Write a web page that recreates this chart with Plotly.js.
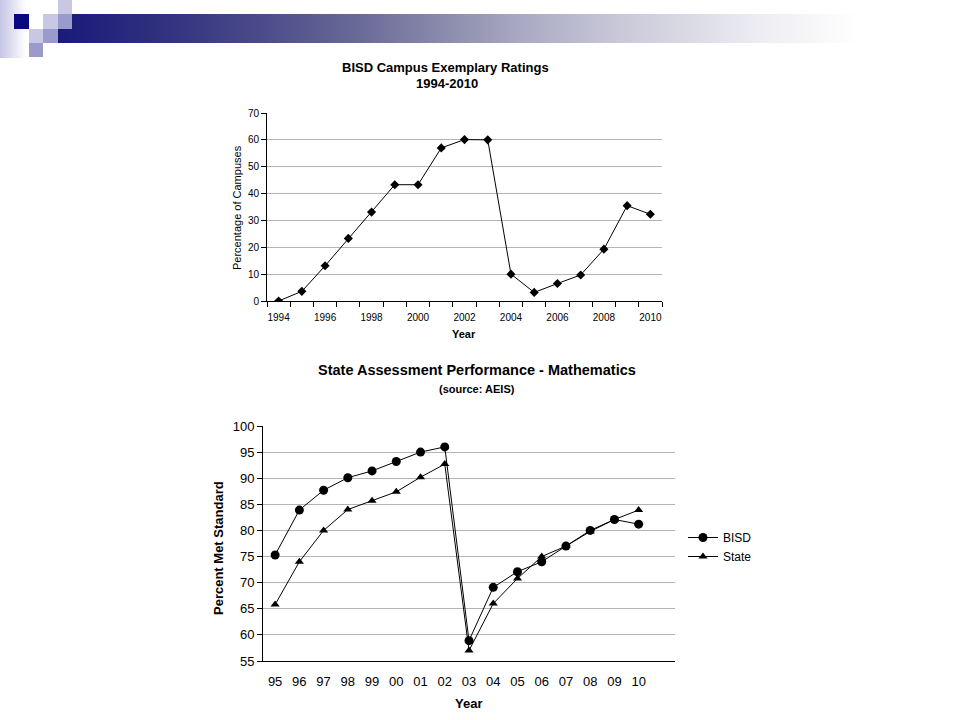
<!DOCTYPE html>
<html><head><meta charset="utf-8">
<script src="https://cdn.plot.ly/plotly-3.0.1.min.js"></script>
<style>
html,body{margin:0;padding:0;background:#fff;}
#wrap{position:relative;width:960px;height:720px;overflow:hidden;background:#fff;}
.deco{position:absolute;}
#chart{position:absolute;left:0;top:0;width:960px;height:720px;}
</style></head><body>
<div id="wrap">
 <div class="deco" style="left:0;top:0;width:26px;height:58px;background:linear-gradient(to right,#c4c4e4,#ffffff);"></div>
 <div class="deco" style="left:58px;top:14px;width:902px;height:29px;background:linear-gradient(to right,#1a1a7a 0px,#30307f 100px,#4a4a8a 200px,#6a6a98 300px,#9090b0 400px,#a8a8c2 460px,#c8c8d8 560px,#ececf2 700px,#ffffff 800px);"></div>
 <div class="deco" style="left:14px;top:14px;width:15px;height:15px;background:#0a0a80;"></div>
 <div class="deco" style="left:43px;top:14px;width:15px;height:15px;background:#c8c8e4;"></div>
 <div class="deco" style="left:58px;top:0px;width:14px;height:14px;background:#c8c8e4;"></div>
 <div class="deco" style="left:58px;top:14px;width:14px;height:15px;background:#9a9acc;"></div>
 <div class="deco" style="left:29px;top:29px;width:14px;height:14px;background:#c8c8e4;"></div>
 <div class="deco" style="left:43px;top:29px;width:15px;height:14px;background:#9a9acc;"></div>
 <div class="deco" style="left:29px;top:43px;width:14px;height:14px;background:#9a9acc;"></div>
 <div id="chart"></div>
</div>
<script>
// Top chart: BISD Campus Exemplary Ratings
const topYears = [1994,1995,1996,1997,1998,1999,2000,2001,2002,2003,2004,2005,2006,2007,2008,2009,2010];
const topPct = [0,3.6,13.1,23.3,33.1,43.3,43.3,57.0,60.1,60.0,10.0,3.2,6.5,9.7,19.3,35.5,32.3];
const topTickYears = [1994,1996,1998,2000,2002,2004,2006,2008,2010];
const topTickText = ["1994","1996","1998","2000","2002","2004","2006","2008","2010"];

// Bottom chart: State Assessment Performance - Mathematics
const yearLabels = ["95","96","97","98","99","00","01","02","03","04","05","06","07","08","09","10"];
const bisd = [75.3,83.9,87.7,90.1,91.4,93.2,95.0,96.0,58.9,69.1,72.1,74.0,77.0,80.0,82.1,81.2];
const state = [65.8,74.0,80.0,84.0,85.7,87.4,90.2,92.7,57.0,66.0,70.8,75.0,77.0,79.8,82.1,83.9];

const F = "Liberation Sans, Arial, sans-serif";

const traces = [
  {x: topYears, y: topPct, type:'scatter', mode:'lines+markers', xaxis:'x', yaxis:'y',
   line:{color:'#000', width:1}, marker:{symbol:'diamond', size:7, color:'#000'}, showlegend:false, name:'Campuses'},
  {x: yearLabels, y: bisd, type:'scatter', mode:'lines+markers', xaxis:'x2', yaxis:'y2',
   line:{color:'#000', width:1}, marker:{symbol:'circle', size:9, color:'#000'}, name:'BISD'},
  {x: yearLabels, y: state, type:'scatter', mode:'lines+markers', xaxis:'x2', yaxis:'y2',
   line:{color:'#000', width:1}, marker:{symbol:'triangle-up', size:8, color:'#000'}, name:'State'}
];

const gridC = '#b4b4b4';
const clear = 'rgba(0,0,0,0)';
const layout = {
  width:960, height:720,
  margin:{l:0,r:0,t:0,b:0},
  paper_bgcolor:clear, plot_bgcolor:clear,
  font:{family:F, color:'#000'},
  xaxis:{domain:[267/960, 662/960], anchor:'y', type:'linear', range:[1993.5,2010.5],
    tickmode:'array', tickvals: topTickYears, ticktext: topTickText,
    ticks:'outside', ticklen:7, tickcolor:clear, showgrid:false,
    showline:true, linecolor:'#000', linewidth:1, tickfont:{size:10, family:F}, zeroline:false,
    minor:{tick0:1993.5, dtick:1, ticks:'outside', ticklen:5, tickcolor:'#000', showgrid:false}},
  yaxis:{domain:[(720-301)/720, (720-113)/720], anchor:'x', range:[0,70], dtick:10,
    showgrid:true, gridcolor:gridC, gridwidth:1, zeroline:false,
    showline:true, linecolor:'#000', linewidth:1, ticks:'outside', ticklen:5, tickcolor:'#000',
    tickfont:{size:10, family:F}},
  xaxis2:{domain:[263/960, 675/960], anchor:'y2', type:'category', range:[-0.5,16.5],
    ticks:'outside', ticklen:8, tickcolor:clear, showgrid:false, showline:true, linecolor:'#000', linewidth:1,
    tickfont:{size:13, family:F}, zeroline:false},
  xaxis3:{overlaying:'x2', anchor:'y2', type:'linear', range:[-0.5,16.5], tick0:-0.5, dtick:1,
    ticks:'outside', ticklen:5, tickcolor:'#000', showticklabels:false, showgrid:false,
    showline:false, zeroline:false},
  yaxis2:{domain:[(720-661)/720, (720-426)/720], anchor:'x2', range:[55,100], dtick:5,
    showgrid:true, gridcolor:gridC, gridwidth:1, zeroline:false,
    showline:true, linecolor:'#000', linewidth:1, ticks:'outside', ticklen:5, tickcolor:'#000',
    tickfont:{size:13, family:F}},
  showlegend:true,
  legend:{x:683/960, y:(720-523)/720, xanchor:'left', yanchor:'top', bgcolor:clear,
    font:{size:12, family:F}, itemwidth:30, tracegroupgap:0},
  annotations:[
    {text:'<b>BISD Campus Exemplary Ratings</b>', x:445/960, y:(720-67)/720, xref:'paper', yref:'paper',
     showarrow:false, font:{size:13, family:F}, xanchor:'center', yanchor:'middle'},
    {text:'<b>1994-2010</b>', x:447/960, y:(720-83)/720, xref:'paper', yref:'paper',
     showarrow:false, font:{size:13, family:F}, xanchor:'center', yanchor:'middle'},
    {text:'Percentage of Campuses', x:237/960, y:(720-208)/720, xref:'paper', yref:'paper',
     showarrow:false, textangle:-90, font:{size:11, family:F}, xanchor:'center', yanchor:'middle'},
    {text:'<b>Year</b>', x:464/960, y:(720-334)/720, xref:'paper', yref:'paper',
     showarrow:false, font:{size:11, family:F}, xanchor:'center', yanchor:'middle'},
    {text:'<b>State Assessment Performance - Mathematics</b>', x:477/960, y:(720-370)/720, xref:'paper', yref:'paper',
     showarrow:false, font:{size:14.5, family:F}, xanchor:'center', yanchor:'middle'},
    {text:'<b>(source: AEIS)</b>', x:477/960, y:(720-389)/720, xref:'paper', yref:'paper',
     showarrow:false, font:{size:11, family:F}, xanchor:'center', yanchor:'middle'},
    {text:'<b>Percent Met Standard</b>', x:218/960, y:(720-548)/720, xref:'paper', yref:'paper',
     showarrow:false, textangle:-90, font:{size:13, family:F}, xanchor:'center', yanchor:'middle'},
    {text:'<b>Year</b>', x:468/960, y:(720-703)/720, xref:'paper', yref:'paper',
     showarrow:false, font:{size:13, family:F}, xanchor:'center', yanchor:'middle'}
  ]
};
Plotly.newPlot('chart', traces, layout, {staticPlot:true, displayModeBar:false});
</script>
</body></html>
